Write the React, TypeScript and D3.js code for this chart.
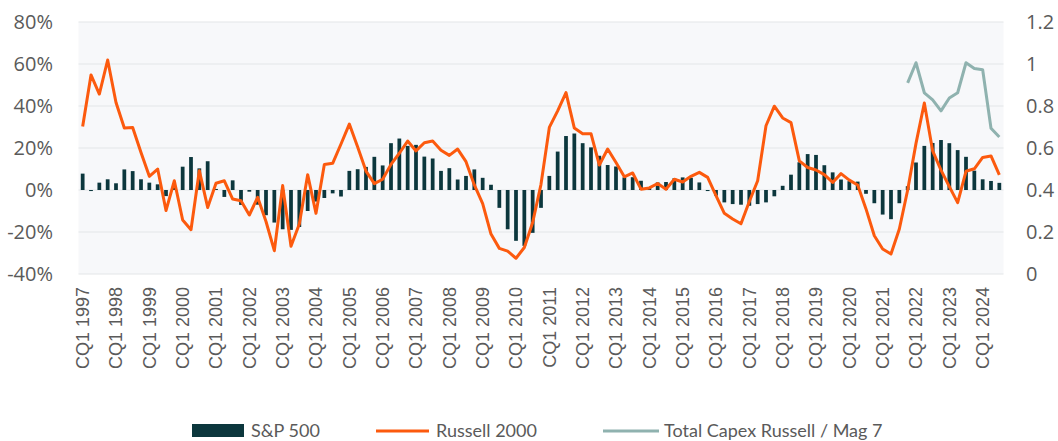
import React from "react";
import * as d3 from "d3";

const startYear = 1997;
const quarters: string[] = Array.from({ length: 111 }, (_, i) => `${startYear + Math.floor(i / 4)}Q${(i % 4) + 1}`);

const sp500: number[] = [
  7.8, -0.5, 3.5, 5.1, 3.2, 9.8, 9.0, 5.1, 3.5, 2.7,
  -2.9, 1.5, 11.1, 15.7, 10.3, 13.7, 0.5, -3.3, 4.6, -7.1,
  -0.8, -7, -12, -15.5, -18.7, -19, -17.6, -10, -5.5, -3.8,
  -1.6, -3.1, 9.1, 9.9, 11, 15.8, 11.7, 22.3, 24.5, 21,
  21.5, 15.9, 15, 9.1, 10.4, 5, 6.7, 9.8, 5.8, 2.5,
  -8.5, -18.7, -24.2, -26.6, -20.4, -8.5, 6.7, 18.3, 25.7, 26.9,
  22.3, 20.3, 16.3, 11.9, 11.2, 6, 6.1, 4.4, 1.4, 3.6,
  3.8, 5.6, 6, 5.8, 3.6, -0.5, -2.7, -5.9, -6.7, -7,
  -7.5, -6.7, -5.9, -3, 2, 7.3, 13.2, 17.1, 16.7, 11.8,
  8.4, 5, 4.2, 4, -1.8, -6.3, -11.7, -13.9, -6.3, 1.8,
  13.1, 21, 22.4, 23.8, 22.3, 19, 15.8, 9.2, 5.1, 4.3,
  3.4,
];

const russell2000: number[] = [
  30.2, 54.8, 45.7, 61.9, 41.7, 29.5, 29.8, 17.9, 6.5, 10,
  -9.8, 4.4, -14.3, -18.9, 9.2, -8.3, 3.2, 4.4, -4.3, -5.1,
  -11.9, -3.5, -15, -28.9, 2.1, -26.8, -16.2, 7.3, -11.1, 12.1,
  12.7, 21.9, 31.4, 20.5, 9, 3, 5.1, 12.2, 17.5, 23.3,
  18.6, 22.5, 23.3, 18.9, 16.5, 19.5, 13.5, 2.4, -6.5, -21,
  -27.8, -29.1, -32.5, -27.4, -15.5, 2.7, 29.8, 37.7, 46.4, 29.5,
  26.8, 26.8, 11.9, 19.5, 13.1, 6.3, 8.1, 0.4, 1, 3.1,
  0.4, 5.1, 3.8, 6.5, 8.4, 6, -2.7, -11.1, -13.8, -16.1,
  -5.5, 4.4, 30.6, 39.9, 34.3, 32.1, 13.9, 10.7, 9.5, 7.3,
  3.6, 7.8, 4.7, 2.4, -9, -21.8, -28.1, -30.5, -18.6, 0,
  22.2, 41.4, 18.6, 9.5, 1.6, -6, 8.9, 10.1, 15.5, 16.2,
  7.2,
];

const capexStart = 99;
const capexRatio: number[] = [0.91, 1.006, 0.863, 0.829, 0.777, 0.838, 0.863, 1.006, 0.979, 0.973, 0.694, 0.652];

const leftTicks: number[] = [-40, -20, 0, 20, 40, 60, 80];
const rightTicks: number[] = [0, 0.2, 0.4, 0.6, 0.8, 1, 1.2];
const rightTickLabels: string[] = ["0", "0.2", "0.4", "0.6", "0.8", "1", "1.2"];
const legendItems: string[] = ["S&P 500", "Russell 2000", "Total Capex Russell / Mag 7"];

const W = 1058;
const H = 441;
const plotLeft = 78.5;
const plotRight = 1003.5;
const plotTop = 22;
const plotBottom = 274;

const BAR = "#0c373d";
const ORANGE = "#fc5a0e";
const CAPEX = "#8fb2af";
const TEXT = "#5a5a5a";

export default function App() {
  const x = d3.scaleBand<number>()
    .domain(quarters.map((_, i) => i))
    .range([plotLeft, plotRight])
    .paddingInner(0.55)
    .paddingOuter(0.275);
  const cx = (i: number) => (x(i) as number) + x.bandwidth() / 2;
  const yL = d3.scaleLinear().domain([-40, 80]).range([plotBottom, plotTop]);
  const yR = d3.scaleLinear().domain([0, 1.2]).range([plotBottom, plotTop]);

  const russellLine = d3.line<number>().x((_, i) => cx(i)).y((d) => yL(d))(russell2000) as string;
  const capexLine = d3.line<number>().x((_, i) => cx(i + capexStart)).y((d) => yR(d))(capexRatio) as string;

  const labelIdx = quarters.map((_, i) => i).filter((i) => i % 4 === 0);

  return (
    <svg width={W} height={H} style={{ position: "absolute", left: 0, top: 0, background: "#fff" }}>
      <rect x={plotLeft} y={plotTop} width={plotRight - plotLeft} height={plotBottom - plotTop} fill="#f7f8fa" />
      {leftTicks.map((t) => (
        <line key={"g" + t} x1={plotLeft} x2={plotRight} y1={yL(t)} y2={yL(t)} stroke="#e4e5e7" strokeWidth={1.2} />
      ))}
      {leftTicks.map((t) => (
        <text key={"l" + t} x={53} y={yL(t)} dy="0.35em" textAnchor="end" fontFamily="'Open Sans', sans-serif" fontSize={20} fill={TEXT}>
          {t}%
        </text>
      ))}
      {rightTicks.map((t, k) => (
        <text key={"r" + t} x={1026} y={yR(t)} dy="0.35em" textAnchor="start" fontFamily="'Open Sans', sans-serif" fontSize={20} fill={TEXT}>
          {rightTickLabels[k]}
        </text>
      ))}
      {sp500.map((v, i) => (
        <rect key={"b" + i} x={x(i)} width={x.bandwidth()} y={Math.min(yL(0), yL(v))} height={Math.abs(yL(v) - yL(0))} fill={BAR} />
      ))}
      <path d={russellLine} fill="none" stroke={ORANGE} strokeWidth={3} strokeLinejoin="round" />
      <path d={capexLine} fill="none" stroke={CAPEX} strokeWidth={3} strokeLinejoin="round" />
      {labelIdx.map((i) => (
        <text key={"x" + i} transform={`translate(${cx(i)},${287}) rotate(-90)`} dy="0.35em" textAnchor="end" fontFamily="'Liberation Sans', Arial, sans-serif" fontSize={18} fill={TEXT}>
          {`CQ1 ${quarters[i].slice(0, 4)}`}
        </text>
      ))}
      <g fontFamily="Lato, sans-serif" fontSize={18} fill={TEXT}>
        <rect x={192} y={424} width={52} height={13} fill={BAR} />
        <text x={251} y={431} dy="0.35em">{legendItems[0]}</text>
        <line x1={376} x2={429} y1={431} y2={431} stroke={ORANGE} strokeWidth={3} />
        <text x={436} y={431} dy="0.35em">{legendItems[1]}</text>
        <line x1={603} x2={659} y1={431} y2={431} stroke={CAPEX} strokeWidth={3} />
        <text x={664} y={431} dy="0.35em">{legendItems[2]}</text>
      </g>
    </svg>
  );
}
